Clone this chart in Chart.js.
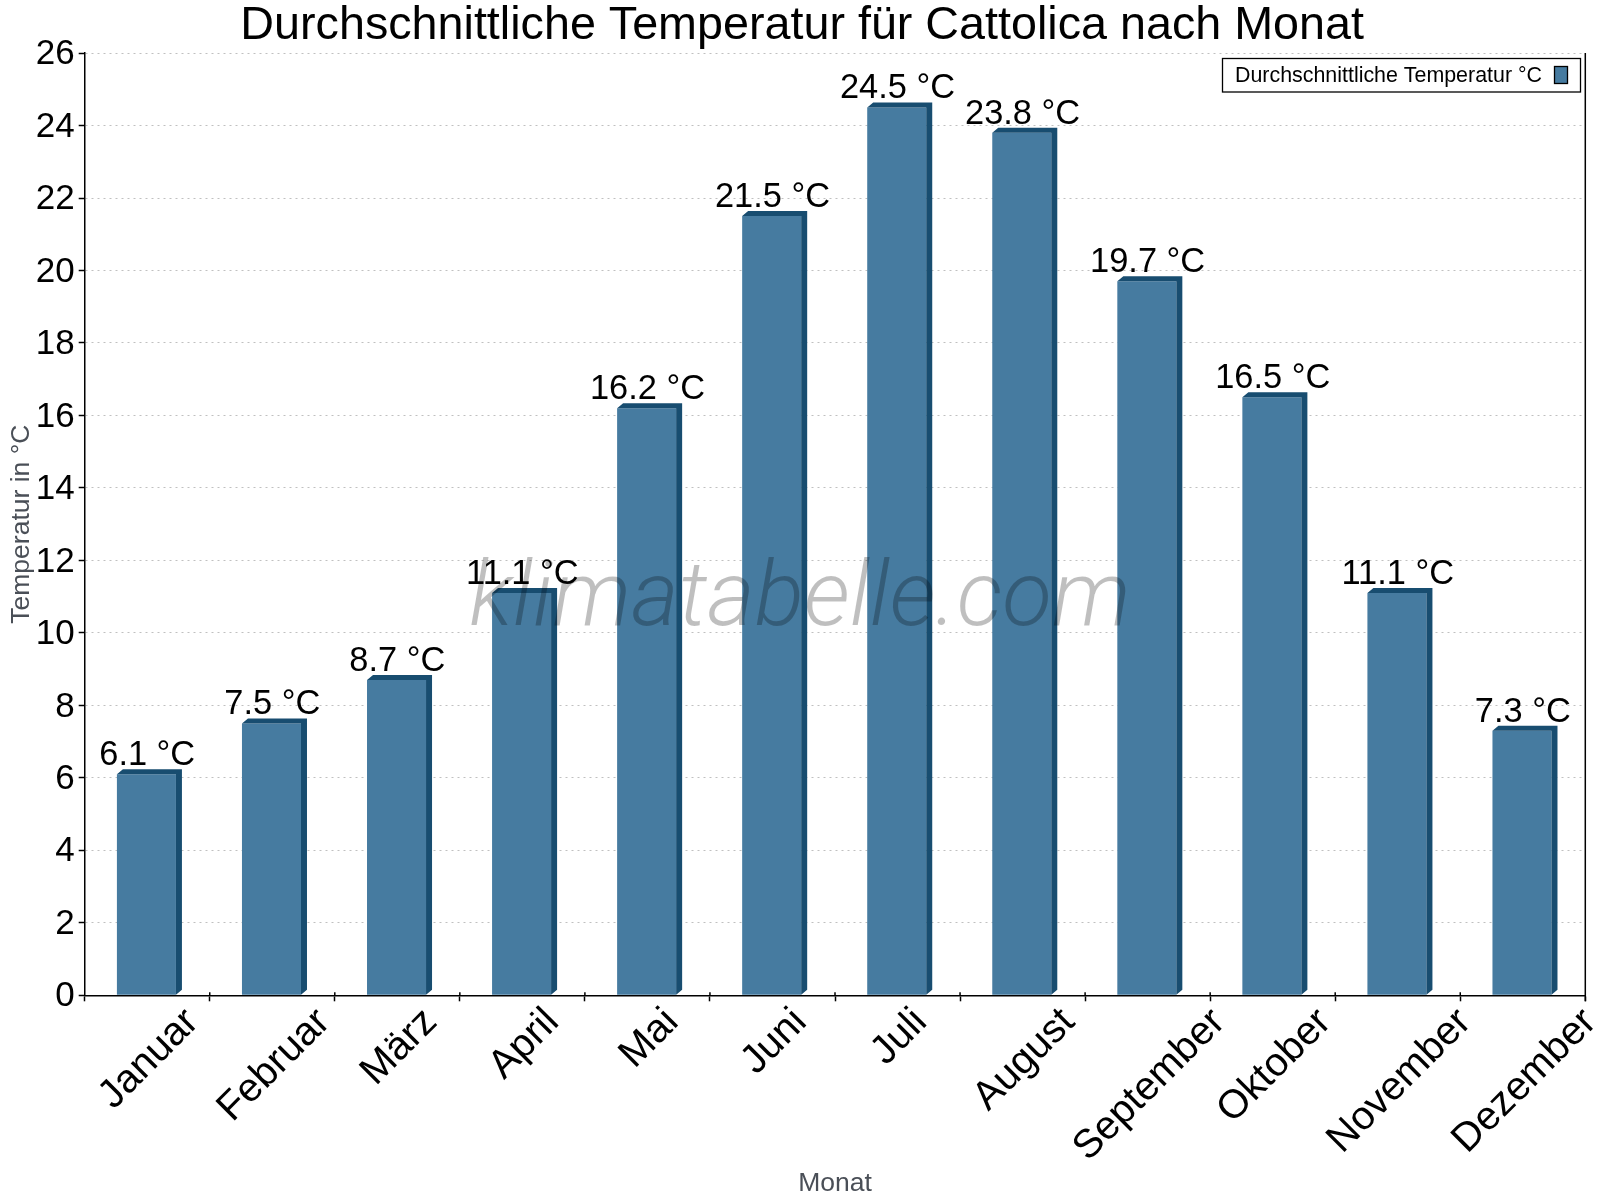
<!DOCTYPE html>
<html>
<head>
<meta charset="utf-8">
<style>
html, body { margin: 0; padding: 0; background: #fff; }
#wrap { position: relative; width: 1600px; height: 1200px; }
</style>
<script src="https://cdn.jsdelivr.net/npm/chart.js@4"></script>
</head>
<body>
<div id="wrap"><canvas id="chart" width="1600" height="1200"></canvas></div>
<script>
const months = ['Januar', 'Februar', 'März', 'April', 'Mai', 'Juni', 'Juli', 'August', 'September', 'Oktober', 'November', 'Dezember'];
const temperatures = [6.1, 7.5, 8.7, 11.1, 16.2, 21.5, 24.5, 23.8, 19.7, 16.5, 11.1, 7.3];
const seriesName = 'Durchschnittliche Temperatur °C';
const chartTitle = 'Durchschnittliche Temperatur für Cattolica nach Monat';
const watermark = 'klimatabelle.com';

const font = '"Liberation Sans", Arial, sans-serif';
const barColor = '#467ba0';
const sideColor = '#184d70';
const depthX = 6;
const depthY = 5;
const barShift = -0.8;

// bars sit slightly left of the category centre in the original
const shiftBars = {
    id: 'shiftBars',
    beforeDatasetDraw(chart) {
        chart.ctx.save();
        chart.ctx.translate(barShift, 0);
    },
    afterDatasetDraw(chart) {
        chart.ctx.restore();
    }
};

// fake 3d edge on the bars, top and right side
const bar3d = {
    id: 'bar3d',
    afterDatasetsDraw(chart) {
        const c = chart.ctx;
        c.save();
        c.fillStyle = sideColor;
        chart.getDatasetMeta(0).data.forEach(b => {
            const right = b.x + barShift + b.width / 2;
            const left = b.x + barShift - b.width / 2;
            c.beginPath();
            c.moveTo(left, b.y);
            c.lineTo(left + depthX, b.y - depthY);
            c.lineTo(right + depthX, b.y - depthY);
            c.lineTo(right + depthX, b.base - depthY);
            c.lineTo(right, b.base);
            c.lineTo(right, b.y);
            c.closePath();
            c.fill();
        });
        c.restore();
    }
};

// value labels, month labels, legend box and watermark
const overlays = {
    id: 'overlays',
    afterDraw(chart) {
        const c = chart.ctx;
        const area = chart.chartArea;
        const xScale = chart.scales.x;
        c.save();

        // right border and the bit of each x tick above the axis
        c.strokeStyle = '#000';
        c.lineWidth = 1.5;
        c.beginPath();
        c.moveTo(area.right, area.top);
        c.lineTo(area.right, area.bottom + 6);
        for (let i = 1; i < months.length; i++) {
            const tx = (xScale.getPixelForTick(i - 1) + xScale.getPixelForTick(i)) / 2;
            c.moveTo(tx, area.bottom - 3);
            c.lineTo(tx, area.bottom);
        }
        c.stroke();

        c.textAlign = 'center';
        c.textBaseline = 'alphabetic';
        c.fillStyle = '#000';
        c.font = '34.4px ' + font;
        chart.getDatasetMeta(0).data.forEach((b, i) => {
            c.fillText(temperatures[i].toFixed(1) + ' °C', b.x, b.y - 9);
        });

        // rotated month labels, centred under the bars and top aligned
        c.font = '40px ' + font;
        c.textBaseline = 'middle';
        months.forEach((m, i) => {
            const ext = (c.measureText(m).width + 30) * Math.SQRT1_2;
            c.save();
            c.translate(xScale.getPixelForTick(i) + 2, area.bottom + 10 + ext / 2);
            c.rotate(-Math.PI / 4);
            c.fillText(m, 0, 0);
            c.restore();
        });

        // legend
        c.fillStyle = '#fff';
        c.fillRect(1222.5, 58.5, 358, 33.5);
        c.strokeStyle = '#000';
        c.lineWidth = 1.3;
        c.strokeRect(1222.5, 58.5, 358, 33.5);
        c.fillStyle = '#000';
        c.font = '21.4px ' + font;
        c.textAlign = 'left';
        c.textBaseline = 'alphabetic';
        c.fillText(seriesName, 1235, 82);
        c.fillStyle = barColor;
        c.fillRect(1554.5, 66.5, 13, 17);
        c.strokeRect(1554.5, 66.5, 13, 17);

        c.font = 'italic 300 91.4px Roboto, ' + font;
        c.fillStyle = 'rgba(0,0,0,0.25)';
        c.textAlign = 'center';
        c.fillText(watermark, 800, 625);
        c.restore();
    }
};

new Chart(document.getElementById('chart').getContext('2d'), {
    type: 'bar',
    data: {
        labels: months,
        datasets: [{
            label: seriesName,
            data: temperatures,
            backgroundColor: barColor,
            barPercentage: 0.472,
            categoryPercentage: 1
        }]
    },
    options: {
        responsive: false,
        animation: false,
        layout: { padding: { left: 19, right: 14.7, top: 0, bottom: 0 } },
        scales: {
            y: {
                min: 0,
                max: 26,
                afterFit(scale) { scale.width = 65.7; },
                border: { color: '#000', width: 1.5, dash: [2, 4] },
                ticks: { stepSize: 2, color: '#000', font: { family: font, size: 35 }, padding: 4, labelOffset: 1.5 },
                grid: { color: '#c0c0c0', tickColor: '#000', tickLength: 6, tickBorderDash: [], tickWidth: 1.5 },
                title: { display: true, text: 'Temperatur in °C', color: '#4a4f57', font: { family: font, size: 26.5 }, padding: { top: -13.6, bottom: 0 } }
            },
            x: {
                afterFit(scale) { scale.height = 204.7; },
                border: { color: '#000', width: 1.5 },
                ticks: { display: false },
                grid: { drawOnChartArea: false, tickColor: '#000', tickLength: 6, tickWidth: 1.5 },
                title: { display: true, text: 'Monat', color: '#4a4f57', font: { family: font, size: 26.5 }, padding: { top: -2, bottom: 0 } }
            }
        },
        plugins: {
            title: { display: true, text: chartTitle, color: '#000', font: { family: font, size: 46.7, weight: 'normal' }, padding: { top: -1.5, bottom: -1.5 } },
            legend: { display: false },
            tooltip: { enabled: false }
        }
    },
    plugins: [shiftBars, bar3d, overlays]
});
</script>
</body>
</html>
